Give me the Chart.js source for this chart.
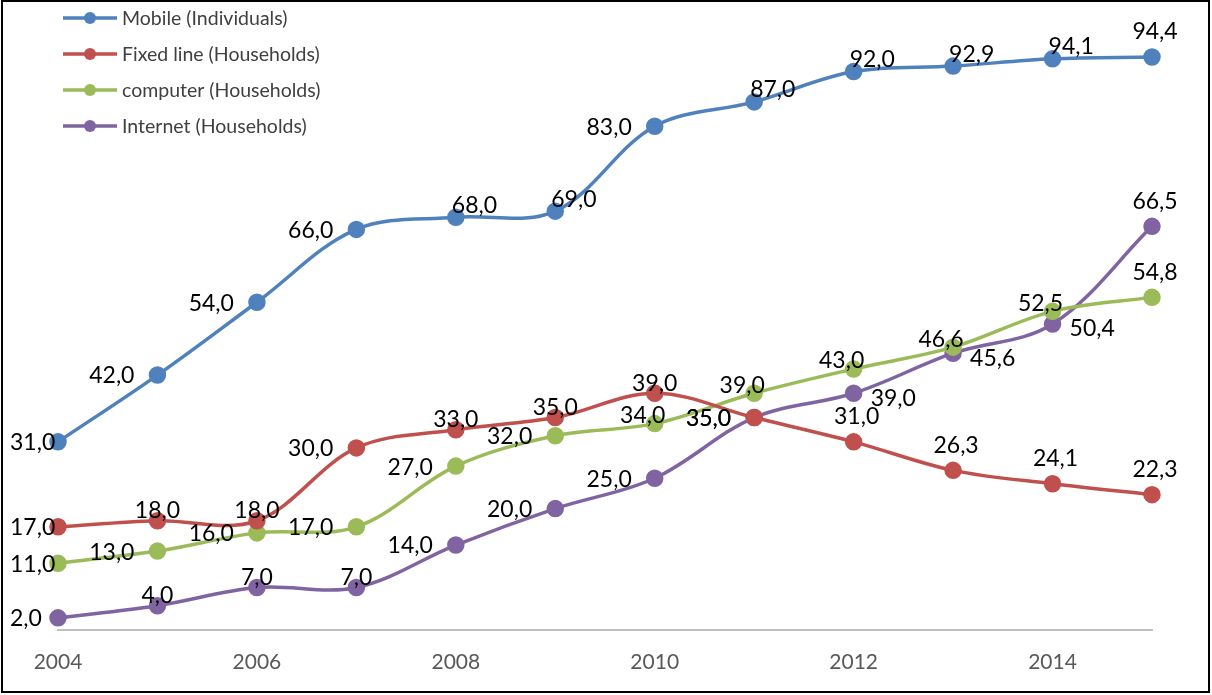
<!DOCTYPE html>
<html>
<head>
<meta charset="utf-8">
<script src="https://cdn.jsdelivr.net/npm/chart.js@4/dist/chart.umd.min.js"></script>
<style>
  html, body { margin: 0; padding: 0; background: #fff; }
  canvas { display: block; }
</style>
</head>
<body>
<canvas id="chart" width="1212" height="695"></canvas>
<script>
const years = ['2004', '2005', '2006', '2007', '2008', '2009', '2010', '2011', '2012', '2013', '2014', '2015'];
const mobile = [31, 42, 54, 66, 68, 69, 83, 87, 92, 92.9, 94.1, 94.4];
const fixedLine = [17, 18, 18, 30, 33, 35, 39, 35, 31, 26.3, 24.1, 22.3];
const computer = [11, 13, 16, 17, 27, 32, 34, 39, 43, 46.6, 52.5, 54.8];
const internet = [2, 4, 7, 7, 14, 20, 25, 35, 39, 45.6, 50.4, 66.5];

// where each value label sits relative to its point
const mobilePos = ['l', 'l', 'l', 'l', 'ar', 'ar', 'l', 'ar', 'ar', 'ar', 'ar', 'a'];
const fixedPos = ['l', 'c', 'c', 'l', 'c', 'c', 'c', 'l', 'a', 'a', 'a', 'a'];
const computerPos = ['l', 'l', 'l', 'l', 'l', 'l', 'cl', 'cl', 'cl', 'cl', 'cl', 'a'];
const internetPos = ['l', 'c', 'c', 'c', 'l', 'l', 'l', 'l', 'r', 'r', 'r', 'a'];

const FONT = 'Lato, "Open Sans", sans-serif';

function series(label, data, color, pos) {
    return {
        label: label,
        data: data,
        borderColor: color,
        backgroundColor: color,
        pointBackgroundColor: color,
        pointBorderColor: color,
        borderWidth: 3.5,
        pointRadius: 7,
        pointHoverRadius: 7,
        tension: 0.35,
        clip: false,
        labelPos: pos
    };
}

const valueLabels = {
    id: 'valueLabels',
    afterDatasetsDraw(chart) {
        const ctx = chart.ctx;
        ctx.save();
        ctx.font = '23px ' + FONT;
        ctx.fillStyle = '#000';
        ctx.textBaseline = 'middle';
        ctx.textAlign = 'left';
        chart.data.datasets.forEach((ds, i) => {
            chart.getDatasetMeta(i).data.forEach((pt, j) => {
                const text = ds.data[j].toFixed(1).replace('.', ',');
                const w = ctx.measureText(text).width;
                const p = ds.labelPos[j];
                let x = pt.x, y = pt.y;
                if (p === 'l') { x -= 23 + w; y += 1; }
                else if (p === 'r') { x += 17; y += 5; }
                else if (p === 'a') { x += 3 - w / 2; y -= 25; }
                else if (p === 'c') { x -= w / 2; y -= 10; }
                else if (p === 'cl') { x -= 12 + w / 2; y -= 8; }
                else if (p === 'ar') { x -= 4; y -= 12; }
                // keep labels inside the frame, as the spreadsheet does
                x = Math.max(10, x);
                ctx.fillText(text, x, y);
            });
        });
        ctx.restore();
    }
};

const sideLegend = {
    id: 'sideLegend',
    afterDraw(chart) {
        const ctx = chart.ctx;
        ctx.save();
        chart.data.datasets.forEach((ds, i) => {
            const y = 18 + i * 36;
            ctx.strokeStyle = ds.borderColor;
            ctx.lineWidth = 3.5;
            ctx.beginPath();
            ctx.moveTo(63, y);
            ctx.lineTo(117, y);
            ctx.stroke();
            ctx.fillStyle = ds.borderColor;
            ctx.beginPath();
            ctx.arc(90, y, 6, 0, Math.PI * 2);
            ctx.fill();
            ctx.fillStyle = '#404040';
            ctx.font = '19.5px ' + FONT;
            ctx.textAlign = 'left';
            ctx.textBaseline = 'middle';
            ctx.fillText(ds.label, 122, y + 1);
        });
        // outer frame
        ctx.strokeStyle = '#000';
        ctx.lineWidth = 2;
        ctx.strokeRect(2, 1, 1207, 691);
        ctx.restore();
    }
};

new Chart(document.getElementById('chart'), {
    type: 'line',
    data: {
        labels: years,
        datasets: [
            series('Mobile (Individuals)', mobile, '#4F81BD', mobilePos),
            series('Fixed line (Households)', fixedLine, '#C0504D', fixedPos),
            series('computer (Households)', computer, '#9BBB59', computerPos),
            series('Internet (Households)', internet, '#8064A2', internetPos)
        ]
    },
    options: {
        responsive: false,
        animation: false,
        devicePixelRatio: 1,
        layout: { padding: { left: 58, right: 60, top: 23, bottom: 22 } },
        plugins: {
            legend: { display: false },
            tooltip: { enabled: false }
        },
        scales: {
            x: {
                offset: false,
                grid: { display: false, drawTicks: false },
                border: { display: true, color: '#BFBFBF', width: 2 },
                afterFit: function (scale) { scale.height = 43; },
                ticks: {
                    autoSkip: false,
                    maxRotation: 0,
                    padding: 20,
                    color: '#595959',
                    font: { family: FONT, size: 21 },
                    callback: function (v, i) { return i % 2 === 0 ? this.getLabelForValue(v) : ''; }
                }
            },
            y: {
                display: false,
                min: 0,
                max: 100
            }
        }
    },
    plugins: [valueLabels, sideLegend]
});
</script>
</body>
</html>
